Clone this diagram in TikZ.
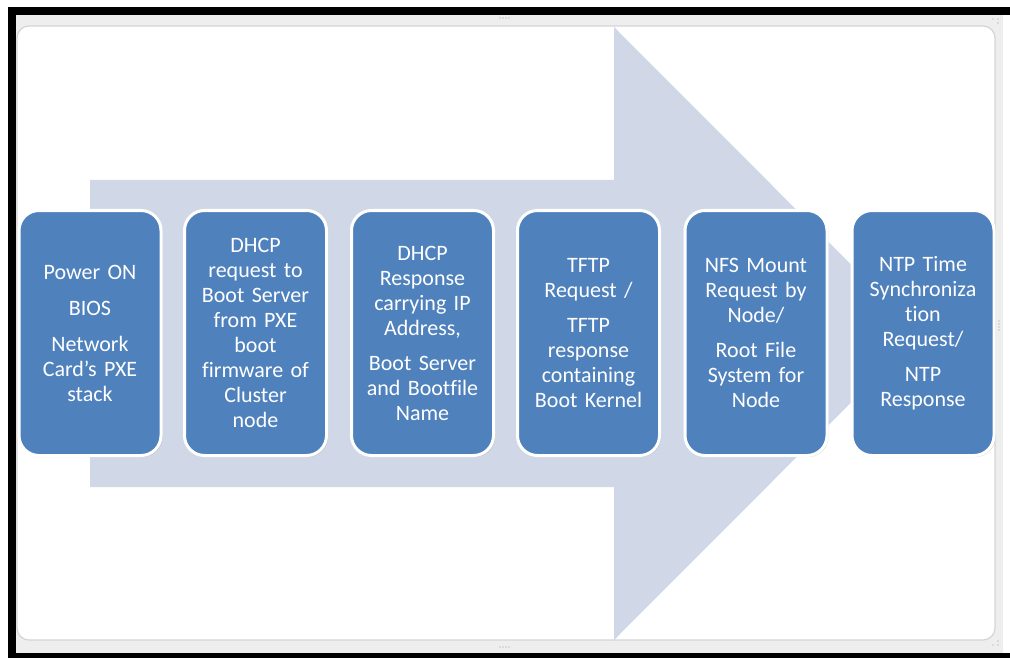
\documentclass[tikz,border=0pt]{standalone}
\usepackage{fontspec}
\setmainfont{Carlito}[Ligatures={NoCommon,NoDiscretionary,NoContextual}]
\usetikzlibrary{shadows}
\definecolor{stepblue}{HTML}{4F81BD}
\definecolor{flowfill}{HTML}{D0D8E8}
\definecolor{panelgray}{HTML}{EEEEEE}
\definecolor{edgegray}{HTML}{D4D4D4}
\tikzset{
  stepbox/.style={draw=white, line width=3pt, fill=stepblue, rounded corners=20pt,
    minimum width=142pt, minimum height=245pt, text width=136pt, align=center,
    text=white, font=\fontsize{22}{25}\selectfont, inner sep=0pt,
    drop shadow={opacity=0.25, shadow xshift=1.5pt, shadow yshift=-1.5pt}},
  grip/.style={fill=gray!45, draw=none}
}
\begin{document}
\begin{tikzpicture}[x=1pt,y=-1pt]
  % canvas and window frame
  \useasboundingbox (0,0) rectangle (1010,658);
  \fill[white] (0,0) rectangle (1010,658);
  \fill[black] (8,7) rectangle (1010,658);
  \fill[panelgray] (16,15) rectangle (1003,653);
  \fill[white] (1003,15) rectangle (1010,653);
  \draw[edgegray, line width=1.2pt, fill=white, rounded corners=12pt] (17,26) rectangle (995,640);
  % resize grips
  \foreach \gx in {500,503,506,509} {
    \fill[grip] (\gx,18) circle (0.8pt);
    \fill[grip] (\gx,647) circle (0.8pt);
  }
  \foreach \gy in {321,324,327,330} \fill[grip] (999,\gy) circle (0.8pt);
  \foreach \gx/\gy in {993/19,998/19,998/23,993/645,998/645,998/641} \fill[grip] (\gx,\gy) circle (0.8pt);
  % process arrow behind the steps
  \fill[flowfill] (90,180) -- (614,180) -- (614,27) -- (920,333.5) -- (614,640) -- (614,487) -- (90,487) -- cycle;
  % process steps
  \node[stepbox] (s1) at (90,333) {Power ON\\[11pt]BIOS\\[11pt]Network\\Card’s PXE\\stack};
  \node[stepbox] (s2) at (255.5,333) {DHCP\\request to\\Boot Server\\from PXE\\boot\\firmware of\\Cluster\\node};
  \node[stepbox] (s3) at (422.5,333) {DHCP\\Response\\carrying IP\\Address,\\[10pt]Boot Server\\and Bootfile\\Name};
  \node[stepbox] (s4) at (588.5,333) {TFTP\\Request /\\[10pt]TFTP\\response\\containing\\Boot Kernel};
  \node[stepbox] (s5) at (756,333) {NFS Mount\\Request by\\Node/\\[10pt]Root File\\System for\\Node};
  \node[stepbox] (s6) at (923,333) {NTP Time\\Synchroniza\\tion\\Request/\\[10pt]NTP\\Response};
\end{tikzpicture}
\end{document}
